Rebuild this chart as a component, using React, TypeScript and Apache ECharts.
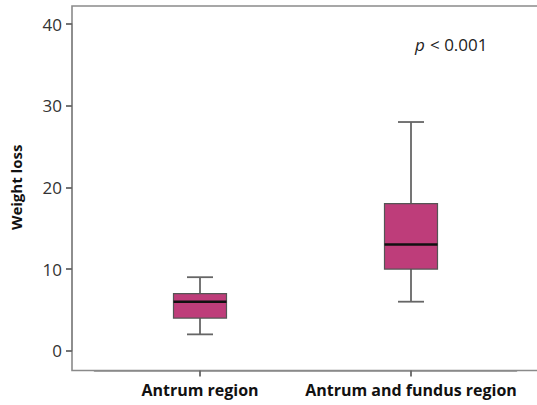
import React, { useEffect, useRef } from "react";
import * as echarts from "echarts";

const categories = ["Antrum region", "Antrum and fundus region"];
// [min, Q1, median, Q3, max]
const boxValues = [
  [2, 4, 6, 7, 9],
  [6, 10, 13, 18, 28],
];
const yTicks = { min: 0, max: 40, interval: 10 };
const yAxisName = "Weight loss";
const annotation = "< 0.001";

const FONT = "'Open Sans', 'DejaVu Sans', sans-serif";
const BOX_FILL = "#BE3D7A";
const AXIS_GRAY = "#8a8a8a";
const TICK_GRAY = "#666";

export default function App() {
  const ref = useRef<HTMLDivElement>(null);
  useEffect(() => {
    if (!ref.current) return;
    const chart = echarts.init(ref.current, undefined, { renderer: "svg" });
    const data = boxValues.map((v, i) => [i, ...v]);
    chart.setOption({
      animation: false,
      grid: [
        { left: 94.5, top: 24, width: 422, height: 326.7 },
        { left: 72, top: 24, width: 480, height: 326.7 },
        { left: 94.5, top: 6, width: 422, height: 364.5 },
      ],
      xAxis: [
        { gridIndex: 0, type: "category", data: categories, show: false },
        { gridIndex: 1, type: "value", show: false, min: 0, max: 1 },
        {
          gridIndex: 2,
          type: "category",
          data: categories,
          axisLine: { show: true, lineStyle: { color: AXIS_GRAY, width: 1.6 } },
          axisTick: {
            show: true,
            alignWithLabel: true,
            length: 6,
            lineStyle: { color: TICK_GRAY, width: 1.8 },
          },
          axisLabel: {
            interval: 0,
            margin: 11,
            fontFamily: FONT,
            fontWeight: "bold",
            fontSize: 16,
            color: "#111",
          },
        },
      ],
      yAxis: [
        { gridIndex: 0, type: "value", show: false, min: yTicks.min, max: yTicks.max },
        {
          gridIndex: 1,
          type: "value",
          min: yTicks.min,
          max: yTicks.max,
          interval: yTicks.interval,
          name: yAxisName,
          nameLocation: "middle",
          nameGap: 49,
          nameTextStyle: { fontFamily: FONT, fontWeight: "bold", fontSize: 15, color: "#111" },
          axisLine: { show: true, lineStyle: { color: AXIS_GRAY, width: 1.6 } },
          axisTick: { show: true, length: 6, lineStyle: { color: TICK_GRAY, width: 1.8 } },
          splitLine: { show: false },
          axisLabel: { margin: 10, fontFamily: FONT, fontSize: 17, color: "#333" },
        },
        { gridIndex: 2, type: "value", show: false, min: 0, max: 1 },
      ],
      series: [
        {
          type: "custom",
          xAxisIndex: 0,
          yAxisIndex: 0,
          data,
          encode: { x: 0, y: [1, 2, 3, 4, 5] },
          renderItem: (params: any, api: any) => {
            const xi = api.value(0);
            const pMin = api.coord([xi, api.value(1)]);
            const pQ1 = api.coord([xi, api.value(2)]);
            const pMed = api.coord([xi, api.value(3)]);
            const pQ3 = api.coord([xi, api.value(4)]);
            const pMax = api.coord([xi, api.value(5)]);
            const cx = pMed[0];
            const bw = 53;
            const cap = 26;
            const ws = { stroke: "#666", lineWidth: 1.8 };
            return {
              type: "group",
              children: [
                { type: "line", shape: { x1: cx, y1: pMax[1], x2: cx, y2: pQ3[1] }, style: ws },
                { type: "line", shape: { x1: cx, y1: pQ1[1], x2: cx, y2: pMin[1] }, style: ws },
                { type: "line", shape: { x1: cx - cap / 2, y1: pMax[1], x2: cx + cap / 2, y2: pMax[1] }, style: ws },
                { type: "line", shape: { x1: cx - cap / 2, y1: pMin[1], x2: cx + cap / 2, y2: pMin[1] }, style: ws },
                {
                  type: "rect",
                  shape: { x: cx - bw / 2, y: pQ3[1], width: bw, height: pQ1[1] - pQ3[1] },
                  style: { fill: BOX_FILL, stroke: "#555", lineWidth: 1.2 },
                },
                {
                  type: "line",
                  shape: { x1: cx - bw / 2, y1: pMed[1], x2: cx + bw / 2, y2: pMed[1] },
                  style: { stroke: "#111", lineWidth: 2.5 },
                },
              ],
            };
          },
        },
      ],
      graphic: [
        {
          type: "polyline",
          shape: {
            points: [
              [600, 6],
              [72, 6],
              [72, 370.5],
              [600, 370.5],
            ],
          },
          style: { stroke: AXIS_GRAY, lineWidth: 1.6, fill: "none" },
          silent: true,
        },
        {
          type: "text",
          left: 415,
          top: 36,
          style: {
            text: "p",
            fontFamily: FONT,
            fontStyle: "italic",
            fontSize: 17,
            fill: "#222",
          },
        },
        {
          type: "text",
          left: 430,
          top: 36,
          style: {
            text: annotation,
            fontFamily: FONT,
            fontSize: 17,
            fill: "#222",
          },
        },
      ],
    });
    return () => chart.dispose();
  }, []);
  return (
    <div
      ref={ref}
      style={{ position: "fixed", left: 0, top: 0, width: 537, height: 405, background: "#fff" }}
    />
  );
}
